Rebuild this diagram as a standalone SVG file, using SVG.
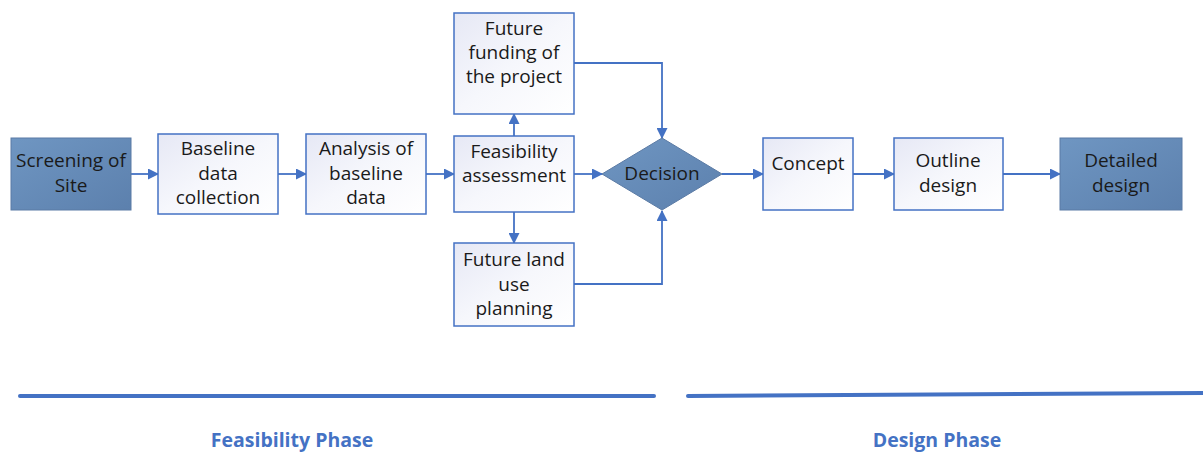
<svg xmlns="http://www.w3.org/2000/svg" width="1203" height="454" viewBox="0 0 1203 454">
<defs>
<linearGradient id="lg" x1="0" y1="0" x2="1" y2="1">
<stop offset="0" stop-color="#e6e8f5"/><stop offset="0.5" stop-color="#f6f7fc"/><stop offset="1" stop-color="#ffffff"/>
</linearGradient>
<linearGradient id="dg" x1="0" y1="0" x2="1" y2="1">
<stop offset="0" stop-color="#6f96c2"/><stop offset="1" stop-color="#5c80ad"/>
</linearGradient>
<marker id="ar" markerWidth="11" markerHeight="11" refX="10" refY="5.5" orient="auto" markerUnits="userSpaceOnUse">
<path d="M0,0 L11,5.5 L0,11 Z" fill="#4472c4"/>
</marker>
</defs>
<style>
.box{fill:url(#lg);stroke:#4472c4;stroke-width:1.5}
.dark{fill:url(#dg);stroke:#5b7ba5;stroke-width:1}
.t{font-family:"Open Sans","Noto Sans",sans-serif;font-size:19px;fill:#1a1a1a;text-anchor:middle}
.c{fill:none;stroke:#4472c4;stroke-width:1.8}
.ph{font-family:"Open Sans","Liberation Sans",sans-serif;font-size:19.5px;font-weight:bold;fill:#4472c4;text-anchor:middle}
</style>
<g id="connectors">
<line class="c" x1="131" y1="174" x2="158" y2="174" marker-end="url(#ar)"/>
<line class="c" x1="278" y1="174" x2="306" y2="174" marker-end="url(#ar)"/>
<line class="c" x1="426" y1="174" x2="454" y2="174" marker-end="url(#ar)"/>
<line class="c" x1="574" y1="174" x2="602" y2="174" marker-end="url(#ar)"/>
<line class="c" x1="514" y1="136" x2="514" y2="114" marker-end="url(#ar)"/>
<line class="c" x1="514" y1="212" x2="514" y2="243" marker-end="url(#ar)"/>
<polyline class="c" points="574,63 662,63 662,138" marker-end="url(#ar)"/>
<polyline class="c" points="574,284 662,284 662,211" marker-end="url(#ar)"/>
<line class="c" x1="722" y1="174" x2="763" y2="174" marker-end="url(#ar)"/>
<line class="c" x1="853" y1="174" x2="894" y2="174" marker-end="url(#ar)"/>
<line class="c" x1="1003" y1="174" x2="1060" y2="174" marker-end="url(#ar)"/>
</g>
<g id="screening"><rect class="dark" x="11" y="138" width="120" height="72"/>
<text class="t" x="71" y="167">Screening of</text><text class="t" x="71" y="192">Site</text></g>
<g id="baseline"><rect class="box" x="158" y="134" width="120" height="80"/>
<text class="t" x="218" y="155">Baseline</text><text class="t" x="218" y="180">data</text><text class="t" x="218" y="204">collection</text></g>
<g id="analysis"><rect class="box" x="306" y="134" width="120" height="80"/>
<text class="t" x="366" y="155">Analysis of</text><text class="t" x="366" y="180">baseline</text><text class="t" x="366" y="204">data</text></g>
<g id="feasibility"><rect class="box" x="454" y="136" width="120" height="76"/>
<text class="t" x="514" y="158">Feasibility</text><text class="t" x="514" y="182">assessment</text></g>
<g id="funding"><rect class="box" x="454" y="13" width="120" height="101"/>
<text class="t" x="514" y="35">Future</text><text class="t" x="514" y="59">funding of</text><text class="t" x="514" y="83">the project</text></g>
<g id="landuse"><rect class="box" x="454" y="243" width="120" height="83"/>
<text class="t" x="514" y="266">Future land</text><text class="t" x="514" y="291">use</text><text class="t" x="514" y="315">planning</text></g>
<g id="decision"><polygon class="dark" points="602,174 662,138 722,174 662,210"/>
<text class="t" x="662" y="180">Decision</text></g>
<g id="concept"><rect class="box" x="763" y="138" width="90" height="72"/>
<text class="t" x="808" y="170">Concept</text></g>
<g id="outline"><rect class="box" x="894" y="138" width="109" height="72"/>
<text class="t" x="948" y="167">Outline</text><text class="t" x="948" y="192">design</text></g>
<g id="detailed"><rect class="dark" x="1060" y="138" width="122" height="72"/>
<text class="t" x="1121" y="167">Detailed</text><text class="t" x="1121" y="192">design</text></g>
<g id="phases">
<line x1="20" y1="396" x2="654" y2="396" stroke="#4472c4" stroke-width="4" stroke-linecap="round"/>
<line x1="688" y1="396" x2="1203" y2="393" stroke="#4472c4" stroke-width="4" stroke-linecap="round"/>
<text class="ph" x="292" y="447">Feasibility Phase</text>
<text class="ph" x="937" y="447">Design Phase</text>
</g>
</svg>
